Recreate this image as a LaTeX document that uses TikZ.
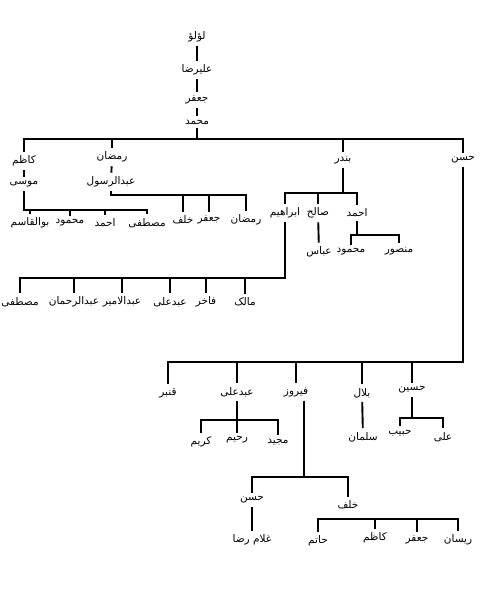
\documentclass[tikz,border=0pt]{standalone}
\usepackage{fontspec}
\newfontfamily\arabicfont[Script=Arabic]{DejaVu Sans}
\TeXXeTstate=1
\newcommand{\artxt}[1]{\beginR#1\endR}
\begin{document}
\begin{tikzpicture}[x=1pt,y=-1pt,
  person/.style={font=\arabicfont\fontsize{10.5}{12}\selectfont, inner sep=1pt, outer sep=3pt},
  link/.style={line width=1.9pt}]
\useasboundingbox[fill=white] (0,0) rectangle (482,597);
% top of the line
\node[person] (lulu) at (197,37) {\artxt{لؤلؤ}};
\node[person] (alireza) at (197,70) {\artxt{علیرضا}};
\node[person] (jafar) at (197,100) {\artxt{جعفر}};
\node[person] (muhammad) at (197,122) {\artxt{محمد}};
% sons of muhammad
\node[person] (kazim) at (24,161) {\artxt{کاظم}};
\node[person] (ramazan) at (112,157) {\artxt{رمضان}};
\node[person] (bandar) at (343,160) {\artxt{بندر}};
\node[person] (hasan) at (463,160) {\artxt{حسن}};
\node[person] (musa) at (24,184) {\artxt{موسی}};
\node[person] (abdolrasul) at (111,182) {\artxt{عبدالرسول}};
\node[person] (abolqasem) at (30,223) {\artxt{بوالقاسم}};
\node[person] (mahmud) at (70,223) {\artxt{محمود}};
\node[person] (ahmad) at (105,223) {\artxt{احمد}};
\node[person] (mostafa) at (147,223) {\artxt{مصطفی}};
\node[person] (khalaf) at (183,220) {\artxt{خلف}};
\node[person] (jafarb) at (209,220) {\artxt{جعفر}};
\node[person] (ramazanb) at (246,220) {\artxt{رمضان}};
% bandar
\node[person] (ebrahim) at (285,213) {\artxt{ابراهیم}};
\node[person] (saleh) at (318,213) {\artxt{صالح}};
\node[person] (ahmadb) at (357,213) {\artxt{احمد}};
\node[person] (abbas) at (319,252) {\artxt{عباس}};
\node[person] (mahmudb) at (351,252) {\artxt{محمود}};
\node[person] (mansur) at (399,251) {\artxt{منصور}};
\node[person] (mostafab) at (20,302) {\artxt{مصطفی}};
\node[person] (abdolrahman) at (74,302) {\artxt{عبدالرحمان}};
\node[person] (abdolamir) at (122,302) {\artxt{عبدالامیر}};
\node[person] (abdolalib) at (170,302) {\artxt{عبدعلی}};
\node[person] (fakher) at (206,302) {\artxt{فاخر}};
\node[person] (malek) at (245,302) {\artxt{مالک}};
% hasan
\node[person] (qanbar) at (168,393) {\artxt{قنبر}};
\node[person] (abdolali) at (237,392) {\artxt{عبدعلی}};
\node[person] (firuz) at (296,392) {\artxt{فیروز}};
\node[person] (belal) at (362,393) {\artxt{بلال}};
\node[person] (hoseyn) at (412,390) {\artxt{حسین}};
\node[person] (salman) at (363,437) {\artxt{سلمان}};
\node[person] (habib) at (400,433) {\artxt{حبیب}};
\node[person] (ali) at (443,437) {\artxt{علی}};
\node[person] (karim) at (201,442) {\artxt{کریم}};
\node[person] (rahim) at (237,440) {\artxt{رحیم}};
\node[person] (majid) at (278,442) {\artxt{مجید}};
\node[person] (hasanb) at (252,500) {\artxt{حسن}};
\node[person] (khalafb) at (348,505) {\artxt{خلف}};
\node[person] (gholamreza) at (252,540) {\artxt{غلام رضا}};
\node[person] (hatem) at (318,541) {\artxt{حاتم}};
\node[person] (kazimb) at (375,538) {\artxt{کاظم}};
\node[person] (jafarc) at (417,540) {\artxt{جعفر}};
\node[person] (reysan) at (458,540) {\artxt{ریسان}};
% bus lines
\coordinate (b1) at (0,139);
\coordinate (b2) at (0,210);
\coordinate (b3) at (0,195);
\coordinate (b4) at (0,193);
\coordinate (b5) at (0,235);
\coordinate (b6) at (0,278);
\coordinate (b7) at (0,362);
\coordinate (b8) at (0,418);
\coordinate (b9) at (0,420);
\coordinate (b10) at (0,477);
\coordinate (b11) at (0,519);
\coordinate (firuzfoot) at ([xshift=8pt]firuz.south);
% connectors
\draw[link] (lulu) -- (alireza);
\draw[link] (alireza) -- (jafar);
\draw[link] (jafar) -- (muhammad);
\foreach \c in {kazim,ramazan,bandar,hasan}
  \draw[link] (muhammad) -- (muhammad |- b1) -| (\c);
\draw[link] (kazim) -- (musa);
\draw[link] (ramazan) -- (abdolrasul);
\foreach \c in {abolqasem,mahmud,ahmad,mostafa}
  \draw[link] (musa) -- (musa |- b2) -| (\c);
\foreach \c in {khalaf,jafarb,ramazanb}
  \draw[link] (abdolrasul) -- (abdolrasul |- b3) -| (\c);
\foreach \c in {ebrahim,saleh,ahmadb}
  \draw[link] (bandar) -- (bandar |- b4) -| (\c);
\draw[link] (saleh) -- (abbas);
\foreach \c in {mahmudb,mansur}
  \draw[link] (ahmadb) -- (ahmadb |- b5) -| (\c);
\foreach \c in {mostafab,abdolrahman,abdolamir,abdolalib,fakher,malek}
  \draw[link] (ebrahim) -- (ebrahim |- b6) -| (\c);
\foreach \c in {qanbar,abdolali,firuz,belal,hoseyn}
  \draw[link] (hasan) -- (hasan |- b7) -| (\c);
\draw[link] (belal) -- (salman);
\foreach \c in {habib,ali}
  \draw[link] (hoseyn) -- (hoseyn |- b8) -| (\c);
\foreach \c in {karim,rahim,majid}
  \draw[link] (abdolali) -- (abdolali |- b9) -| (\c);
\foreach \c in {hasanb,khalafb}
  \draw[link] (firuzfoot) -- (firuzfoot |- b10) -| (\c);
\draw[link] (hasanb) -- (gholamreza);
\draw[link] (hatem) -- (hatem |- b11) -| (reysan);
\draw[link] (kazimb) -- (kazimb |- b11);
\draw[link] (jafarc) -- (jafarc |- b11);
\end{tikzpicture}
\end{document}
